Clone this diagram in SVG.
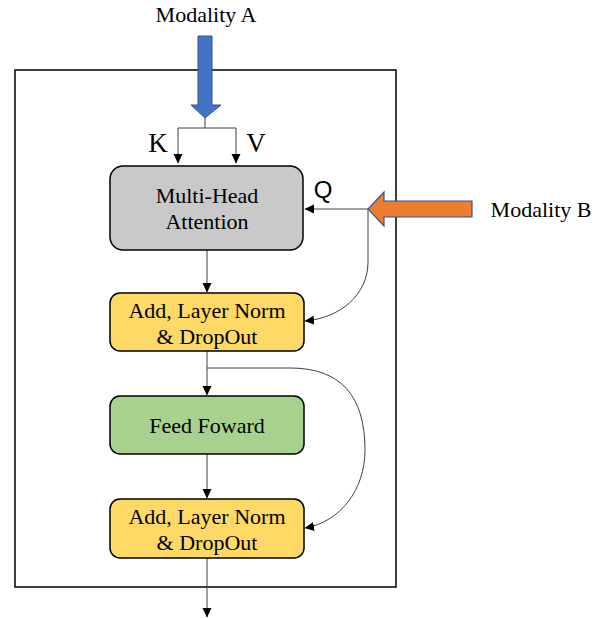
<svg xmlns="http://www.w3.org/2000/svg" width="612" height="619" viewBox="0 0 612 619">
<defs>
<marker id="ah" markerWidth="10" markerHeight="10" refX="9" refY="5" orient="auto" markerUnits="userSpaceOnUse">
<path d="M0,0.5 L9.5,5 L0,9.5 Z" fill="#000"/>
</marker>
</defs>
<style>
.box{stroke:#000;stroke-width:1.5}
.t{font-family:"Liberation Serif","Times New Roman",serif;font-size:22px;fill:#000;text-anchor:middle}
.c{fill:none;stroke:#404040;stroke-width:1}
</style>
<rect width="612" height="619" fill="#fff"/>
<rect id="frame" x="15" y="70" width="381" height="517" fill="none" stroke="#000" stroke-width="1.5"/>

<g id="connectors">
<path class="c" d="M205,118 V128 M178,128 H236 M178,128 V163" marker-end="url(#ah)"/>
<path class="c" d="M236,128 V163" marker-end="url(#ah)"/>
<path class="c" d="M368,209 H305" marker-end="url(#ah)"/>
<path class="c" d="M368,209 V262 C368,295 340,318 305,321" marker-end="url(#ah)"/>
<path class="c" d="M207,250 V292" marker-end="url(#ah)"/>
<path class="c" d="M207,351 V395" marker-end="url(#ah)"/>
<path class="c" d="M207,368 H290 C340,368 365,395 365,450 C365,490 340,522 305,528" marker-end="url(#ah)"/>
<path class="c" d="M207,454 V498" marker-end="url(#ah)"/>
<path class="c" d="M207,558 V617" marker-end="url(#ah)"/>
</g>

<g id="modalityA">
<text class="t" x="206" y="22">Modality A</text>
<path d="M198,36 H212 V105 H221 L205,118 L191,105 H198 Z" fill="#4472c4" stroke="#2f5597" stroke-width="1"/>
</g>

<g id="modalityB">
<path d="M472,201 V217 H384 V226 L368,209 L384,192 V201 Z" fill="#ed7d31" stroke="#2f5597" stroke-width="1.2"/>
<text class="t" x="541" y="217">Modality B</text>
</g>

<g id="labels">
<text x="158" y="152" font-family="Liberation Serif, serif" font-size="27" text-anchor="middle">K</text>
<text x="256" y="152" font-family="Liberation Serif, serif" font-size="27" text-anchor="middle">V</text>
<text x="323" y="198" font-family="Liberation Sans, Arial, sans-serif" font-size="24" text-anchor="middle">Q</text>
</g>

<g id="mha">
<rect class="box" x="110" y="166" width="193" height="84" rx="13" fill="#c9c9c9"/>
<text class="t" x="207" y="203">Multi-Head</text>
<text class="t" x="207" y="229">Attention</text>
</g>

<g id="add1">
<rect class="box" x="110" y="293" width="194" height="58" rx="10" fill="#ffd966"/>
<text class="t" x="207" y="318">Add, Layer Norm</text>
<text class="t" x="207" y="344">&amp; DropOut</text>
</g>

<g id="ff">
<rect class="box" x="110" y="396" width="194" height="58" rx="10" fill="#a9d18e"/>
<text class="t" x="207" y="433">Feed Foward</text>
</g>

<g id="add2">
<rect class="box" x="110" y="499" width="194" height="59" rx="10" fill="#ffd966"/>
<text class="t" x="207" y="524">Add, Layer Norm</text>
<text class="t" x="207" y="550">&amp; DropOut</text>
</g>
</svg>
